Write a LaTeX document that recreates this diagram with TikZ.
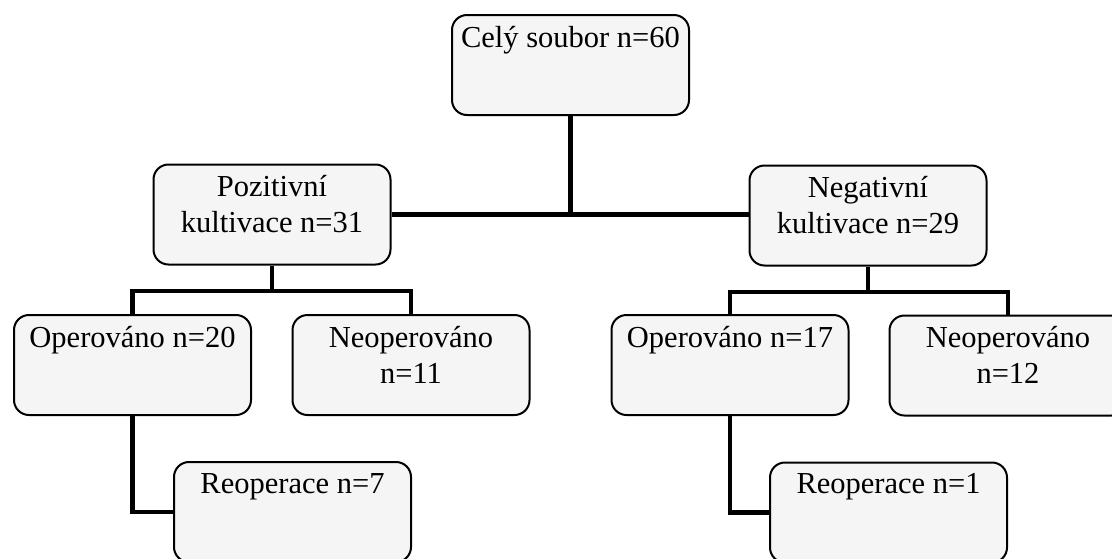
\documentclass[tikz,border=0pt]{standalone}
\usepackage{fontspec}
\setmainfont{Liberation Serif}
\begin{document}
\begin{tikzpicture}[x=1pt,y=-1pt,
  box/.style={draw=black,line width=2pt,rounded corners=15pt,fill=black!4,inner sep=0pt,minimum width=237pt,minimum height=100pt},
  lbl/.style={anchor=north,inner sep=0pt,align=center,font=\fontsize{30.5}{36}\selectfont},
  conn/.style={draw=black,line width=4.5pt}]
\useasboundingbox (0,0) rectangle (1112,558);
\clip (0,0) rectangle (1112,558);
% boxes
\node[box] (top) at (570.5,65) {};
\node[box] (poz) at (272,214.5) {};
\node[box] (neg) at (868,215.5) {};
\node[box] (op20) at (132.5,365) {};
\node[box] (neo11) at (411,365) {};
\node[box] (op17) at (730,365) {};
\node[box] (neo12) at (1008,365.5) {};
\node[box] (reop7) at (292.5,512) {};
\node[box] (reop1) at (888.5,512.5) {};
% labels
\node[lbl] (ttop) at ([yshift=-12pt]top.north) {Celý soubor n=60};
\node[lbl] (tpoz) at ([yshift=-12pt]poz.north) {Pozitivní\\kultivace n=31};
\node[lbl] (tneg) at ([yshift=-12pt]neg.north) {Negativní\\kultivace n=29};
\node[lbl] (top20) at ([yshift=-12pt]op20.north) {Operováno n=20};
\node[lbl] (tneo11) at ([yshift=-12pt]neo11.north) {Neoperováno\\n=11};
\node[lbl] (top17) at ([yshift=-12pt]op17.north) {Operováno n=17};
\node[lbl] (tneo12) at ([yshift=-12pt]neo12.north) {Neoperováno\\n=12};
\node[lbl] (treop7) at ([yshift=-12pt]reop7.north) {Reoperace n=7};
\node[lbl] (treop1) at ([yshift=-12pt]reop1.north) {Reoperace n=1};
% junctions
\coordinate (pj) at (272,291);
\coordinate (nj) at (868,292);
% connectors
\draw[conn] (poz.east) -- (poz.east -| neg.west);
\draw[conn] (top.south) -- (top.south |- poz.east);
\draw[conn] (poz.south) -- (pj);
\draw[conn] (op20.north) |- (pj) -| (neo11.north);
\draw[conn] (neg.south) -- (nj);
\draw[conn] (op17.north) |- (nj) -| (neo12.north);
\draw[conn] (op20.south) |- (reop7.west);
\draw[conn] (op17.south) |- (reop1.west);
\end{tikzpicture}
\end{document}
